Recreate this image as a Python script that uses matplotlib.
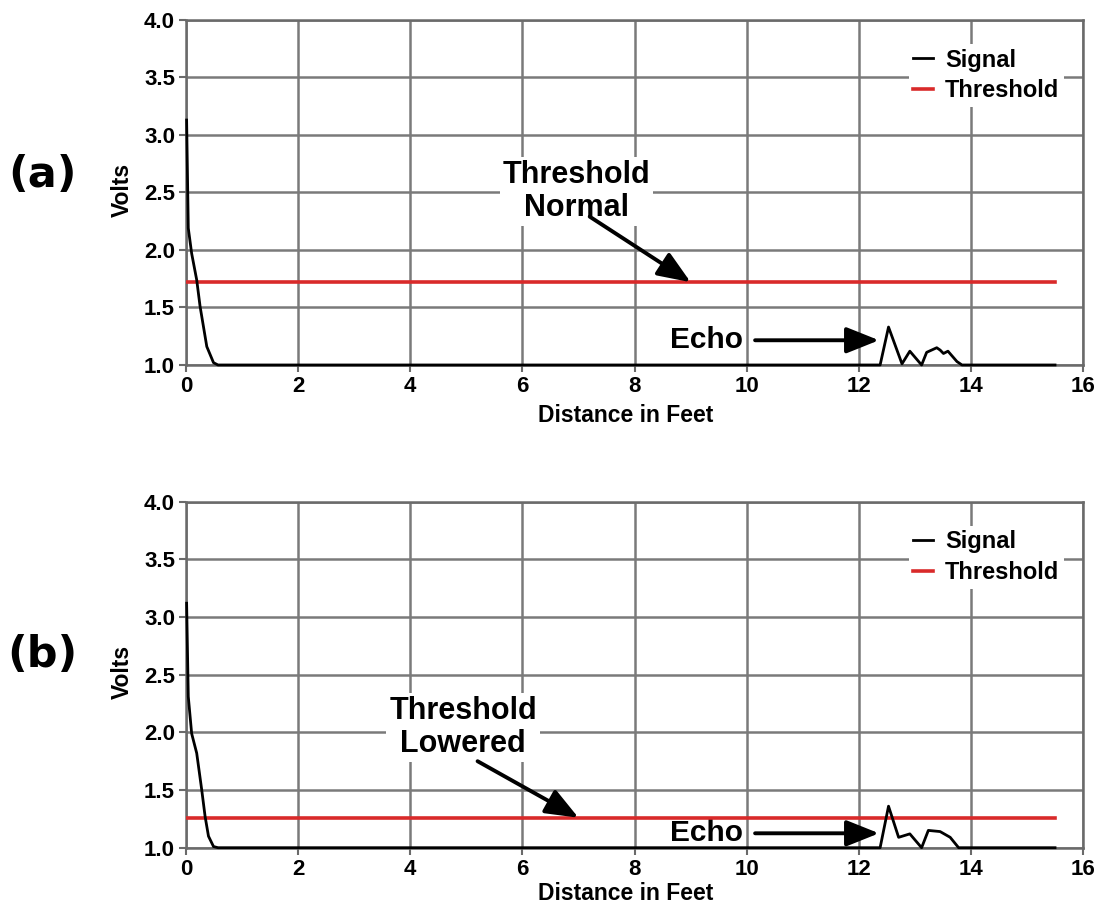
import matplotlib
matplotlib.use("Agg")
import matplotlib.pyplot as plt

# ---------------- data ----------------
x_ticks = [0, 2, 4, 6, 8, 10, 12, 14, 16]
y_ticks = [1.0, 1.5, 2.0, 2.5, 3.0, 3.5, 4.0]

sig_a_x = [0.01, 0.04, 0.10, 0.19, 0.25, 0.37, 0.49, 0.57,
           12.38, 12.53, 12.77, 12.91, 13.12, 13.21, 13.39, 13.45, 13.51, 13.59, 13.75, 13.84, 15.5]
sig_a_y = [3.13, 2.19, 1.97, 1.74, 1.51, 1.16, 1.02, 1.00,
           1.00, 1.33, 1.01, 1.12, 1.00, 1.11, 1.15, 1.13, 1.10, 1.12, 1.03, 1.00, 1.00]

sig_b_x = [0.01, 0.04, 0.10, 0.19, 0.28, 0.34, 0.40, 0.49, 0.57,
           12.38, 12.53, 12.71, 12.91, 13.12, 13.24, 13.45, 13.63, 13.78, 15.5]
sig_b_y = [3.12, 2.31, 1.99, 1.82, 1.50, 1.27, 1.10, 1.01, 1.00,
           1.00, 1.36, 1.09, 1.12, 1.00, 1.15, 1.14, 1.09, 1.00, 1.00]

thr_x = [0.0, 15.5]
thr_a = 1.72
thr_b = 1.26

panel_labels = ["(a)", "(b)"]
thr_texts = ["Threshold\nNormal", "Threshold\nLowered"]

# ---------------- figure ----------------
plt.rcParams['font.family'] = ['Liberation Sans', 'DejaVu Sans']
plt.rcParams['font.weight'] = 'bold'

fig = plt.figure(figsize=(10.97, 9.05), dpi=100)
ax_a = fig.add_axes([0.1696, 0.5967, 0.8177, 0.3812])
ax_b = fig.add_axes([0.1696, 0.0633, 0.8177, 0.3823])

grid_col = '#7a7a7a'
red = '#d92a2a'

configs = [
    dict(ax=ax_a, sx=sig_a_x, sy=sig_a_y, thr=thr_a, label=panel_labels[0], ly=0.8066,
         ttxt=thr_texts[0], tpos=(6.97, 2.51), tail=(7.2, 2.29), tip=(9.0, thr_a),
         echo_pos=(9.28, 1.215), xlab_y=-0.113),
    dict(ax=ax_b, sx=sig_b_x, sy=sig_b_y, thr=thr_b, label=panel_labels[1], ly=0.2762,
         ttxt=thr_texts[1], tpos=(4.94, 2.04), tail=(5.2, 1.75), tip=(7.0, thr_b),
         echo_pos=(9.28, 1.125), xlab_y=-0.100),
]

arrow_style = dict(arrowstyle='-|>,head_length=1.0,head_width=0.4',
                   color='black', lw=2.8, mutation_scale=20, shrinkA=0, shrinkB=0)

for c in configs:
    ax = c['ax']
    ax.set_xlim(0, 16)
    ax.set_ylim(1.0, 4.0)
    ax.set_xticks(x_ticks)
    ax.set_yticks(y_ticks)
    ax.set_yticklabels([f"{v:.1f}" for v in y_ticks])
    ax.grid(True, color=grid_col, linewidth=1.8)
    ax.set_axisbelow(True)
    for s in ax.spines.values():
        s.set_color('#6a6a6a')
        s.set_linewidth(1.8)
    ax.tick_params(axis='both', labelsize=16, length=5, width=1.5, color='#6a6a6a', pad=3)
    for lab in ax.get_xticklabels() + ax.get_yticklabels():
        lab.set_fontweight('bold')

    ax.plot(thr_x, [c['thr'], c['thr']], color=red, lw=2.6, label='Threshold', zorder=3)
    ax.plot(c['sx'], c['sy'], color='black', lw=2.0, label='Signal', zorder=4, clip_on=False)

    handles, labels = ax.get_legend_handles_labels()
    leg = ax.legend(handles[::-1], labels[::-1], loc='upper right', bbox_to_anchor=(0.992, 0.965),
                    frameon=True, facecolor='white', edgecolor='none',
                    framealpha=1, handlelength=0.85, handletextpad=0.5, labelspacing=0.32,
                    borderpad=0.2, prop={'weight': 'bold', 'size': 17})
    leg.get_frame().set_linewidth(0)

    ax.set_xlabel('Distance in Feet', fontsize=16.5, fontweight='bold')
    ax.set_ylabel('Volts', fontsize=16.5, fontweight='bold')
    ax.xaxis.set_label_coords(0.49, c['xlab_y'])
    ax.yaxis.set_label_coords(-0.058, 0.507)

    # threshold annotation
    ax.text(c['tpos'][0], c['tpos'][1], c['ttxt'], ha='center', va='center', fontsize=22,
            fontweight='bold', linespacing=1.15, zorder=6,
            bbox=dict(facecolor='white', edgecolor='none', pad=2))
    ax.annotate('', xy=c['tip'], xytext=c['tail'], zorder=7, arrowprops=arrow_style)

    # echo annotation
    ax.text(c['echo_pos'][0], c['echo_pos'][1], 'Echo', ha='center', va='center', fontsize=21.5,
            fontweight='bold', zorder=2.5,
            bbox=dict(facecolor='white', edgecolor='none', pad=1))
    ax.annotate('', xy=(12.36, c['echo_pos'][1]), xytext=(10.15, c['echo_pos'][1]), zorder=7,
                arrowprops=arrow_style)

    fig.text(0.0383, c['ly'], c['label'], ha='center', va='center', fontsize=31,
             fontweight='bold', family='DejaVu Sans')

fig.savefig('out.png', dpi=100, facecolor='white')
